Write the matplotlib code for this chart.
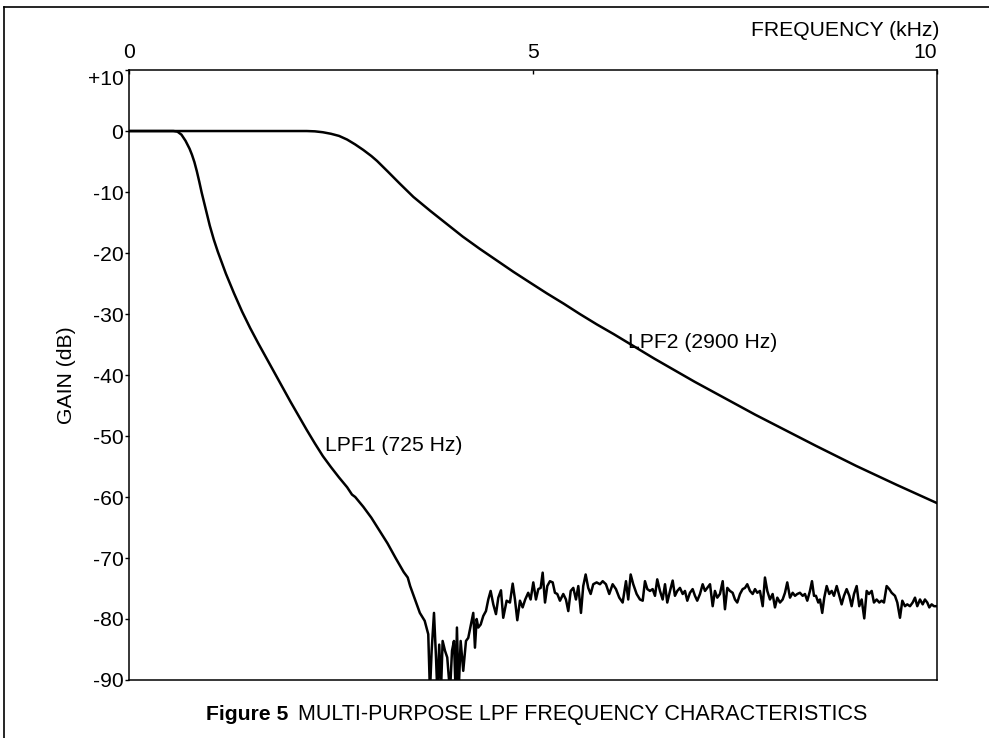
import matplotlib.pyplot as plt
from matplotlib.lines import Line2D

plt.rcParams['font.family'] = ['Liberation Sans', 'DejaVu Sans']

# LPF2 (2900 Hz) - smooth roll-off, frequency in kHz, gain in dB
lpf2_freq = [0.0, 1.0, 2.0, 2.2, 2.3, 2.4, 2.5, 2.6, 2.7, 2.8, 2.9, 3.0, 3.07,
             3.2, 3.35, 3.52, 3.73, 3.93, 4.13, 4.34, 4.55, 4.76, 4.97, 5.17,
             5.38, 5.58, 5.79, 6.0, 6.25, 6.5, 6.75, 7.0, 7.25, 7.5, 7.75,
             8.0, 8.5, 9.0, 9.5, 10.0]
lpf2_gain = [0.0, 0.0, 0.0, 0.0, -0.05, -0.2, -0.45, -0.8, -1.4, -2.2, -3.1,
             -4.1, -4.9, -6.6, -8.6, -10.8, -13.1, -15.2, -17.3, -19.3, -21.2,
             -23.1, -24.9, -26.6, -28.3, -30.0, -31.7, -33.3, -35.3, -37.3,
             -39.2, -41.1, -42.9, -44.7, -46.5, -48.2, -51.6, -54.9, -58.0,
             -61.0]

# LPF1 (725 Hz) - smooth part of the roll-off
lpf1_freq = [0.0, 0.3, 0.55, 0.60, 0.65, 0.70, 0.75, 0.78, 0.81, 0.84, 0.87,
             0.90, 0.95, 1.0, 1.05, 1.1, 1.2, 1.3, 1.4, 1.5, 1.6, 1.7, 1.8,
             1.9, 2.0, 2.1, 2.2, 2.3, 2.4, 2.5, 2.6, 2.7, 2.76, 2.8, 2.9, 3.0,
             3.1, 3.2, 3.3, 3.4, 3.45, 3.48, 3.54, 3.60, 3.66]
lpf1_gain = [0.0, 0.0, 0.0, -0.1, -0.6, -1.6, -2.9, -3.9, -5.1, -6.6, -8.3,
             -10.1, -12.8, -15.5, -17.8, -19.8, -23.4, -26.6, -29.6, -32.3,
             -34.8, -37.2, -39.6, -42.0, -44.4, -46.7, -49.0, -51.2, -53.3,
             -55.1, -56.8, -58.4, -59.6, -60.0, -61.6, -63.4, -65.5, -67.6,
             -70.0, -72.3, -73.2, -74.6, -76.8, -79.0, -80.3]

# LPF1 stop band - measured noise floor
noise_freq = [3.704, 3.725, 3.746, 3.775, 3.800, 3.816, 3.840, 3.861, 3.882,
              3.911, 3.939, 3.973, 3.998, 4.022, 4.043, 4.059, 4.080, 4.105,
              4.137, 4.171, 4.199, 4.233, 4.261, 4.282, 4.303, 4.323, 4.353,
              4.385, 4.418, 4.447, 4.476, 4.509, 4.542, 4.571, 4.604, 4.632,
              4.674, 4.715, 4.749, 4.777, 4.806, 4.839, 4.872, 4.904, 4.941,
              4.971, 5.004, 5.037, 5.066, 5.095, 5.120, 5.149, 5.177, 5.210,
              5.244, 5.272, 5.301, 5.334, 5.375, 5.408, 5.437, 5.467, 5.499,
              5.532, 5.561, 5.594, 5.622, 5.652, 5.684, 5.714, 5.746, 5.788,
              5.829, 5.863, 5.903, 5.944, 5.986, 6.027, 6.068, 6.110, 6.151,
              6.179, 6.209, 6.241, 6.283, 6.324, 6.358, 6.386, 6.415, 6.448,
              6.481, 6.510, 6.538, 6.572, 6.605, 6.634, 6.662, 6.696, 6.729,
              6.757, 6.786, 6.819, 6.853, 6.881, 6.910, 6.943, 6.976, 7.005,
              7.033, 7.067, 7.100, 7.129, 7.157, 7.191, 7.224, 7.252, 7.281,
              7.314, 7.348, 7.376, 7.405, 7.438, 7.471, 7.500, 7.528, 7.562,
              7.595, 7.624, 7.652, 7.686, 7.719, 7.748, 7.776, 7.809, 7.843,
              7.871, 7.900, 7.933, 7.966, 7.995, 8.024, 8.057, 8.090, 8.119,
              8.147, 8.181, 8.214, 8.243, 8.271, 8.304, 8.338, 8.366, 8.395,
              8.428, 8.453, 8.478, 8.502, 8.531, 8.552, 8.580, 8.605, 8.635,
              8.667, 8.697, 8.725, 8.759, 8.791, 8.820, 8.849, 8.882, 8.915,
              8.944, 8.973, 9.006, 9.038, 9.068, 9.100, 9.130, 9.158, 9.192,
              9.220, 9.253, 9.286, 9.315, 9.344, 9.377, 9.410, 9.439, 9.480,
              9.509, 9.542, 9.571, 9.604, 9.632, 9.666, 9.699, 9.728, 9.756,
              9.790, 9.823, 9.851, 9.880, 9.905, 9.934, 9.963, 9.996]
noise_gain = [-82.5, -92.0, -85.2, -79.0, -86.3, -92.0, -84.2, -92.0, -83.6,
              -85.2, -86.3, -92.0, -85.2, -83.6, -92.0, -81.4, -92.0, -83.6,
              -88.5, -83.6, -83.1, -80.9, -79.0, -84.7, -80.0, -81.4, -80.9,
              -79.5, -78.7, -76.8, -75.4, -77.6, -79.2, -76.5, -75.3, -79.8,
              -77.0, -77.3, -74.2, -76.8, -80.2, -77.0, -78.1, -76.8, -75.7,
              -76.8, -74.0, -76.8, -75.1, -74.9, -72.4, -77.3, -74.6, -73.8,
              -74.0, -75.7, -75.9, -77.0, -75.9, -76.8, -78.7, -75.4, -74.9,
              -76.8, -74.6, -79.0, -74.6, -72.7, -74.9, -75.9, -74.3, -74.0,
              -74.3, -73.8, -74.3, -75.9, -74.3, -75.1, -76.5, -77.3, -73.8,
              -76.8, -72.7, -74.3, -75.9, -76.8, -77.0, -73.8, -75.1, -75.4,
              -75.1, -76.2, -73.5, -75.4, -76.8, -74.3, -77.3, -75.4, -73.7,
              -76.2, -75.4, -74.9, -75.9, -75.4, -77.0, -75.7, -75.1, -76.2,
              -77.0, -75.9, -74.3, -75.4, -74.9, -74.3, -77.9, -75.4, -76.5,
              -75.9, -73.8, -78.4, -74.9, -75.4, -75.7, -76.8, -77.3, -75.9,
              -75.1, -74.9, -74.3, -75.4, -75.9, -75.1, -75.7, -75.4, -77.9,
              -73.2, -75.4, -76.8, -75.9, -78.1, -76.5, -77.3, -76.8, -75.7,
              -74.0, -76.5, -75.7, -76.2, -75.9, -75.7, -76.2, -75.9, -77.0,
              -75.4, -73.8, -76.2, -76.2, -77.3, -76.8, -79.0, -76.5, -74.6,
              -75.9, -75.4, -76.2, -74.6, -76.2, -77.6, -76.2, -75.1, -76.2,
              -77.9, -75.9, -74.6, -77.9, -76.8, -79.9, -75.4, -75.9, -75.4,
              -77.3, -76.8, -77.3, -77.0, -77.3, -74.6, -75.1, -75.7, -76.2,
              -77.3, -79.8, -77.0, -77.9, -77.6, -77.9, -77.3, -76.5, -77.9,
              -76.8, -77.6, -76.8, -77.3, -78.1, -77.6, -77.9, -77.9]

x_ticks = [0, 5, 10]
y_ticks = [10, 0, -10, -20, -30, -40, -50, -60, -70, -80, -90]
y_tick_labels = ['+10', '0', '-10', '-20', '-30', '-40', '-50', '-60',
                 '-70', '-80', '-90']

fs = 15.2
fig = plt.figure(figsize=(9.89, 7.38), dpi=100)
ax = fig.add_axes([0.1304, 0.0786, 0.8170, 0.8265])

ax.plot(lpf2_freq, lpf2_gain, color='black', lw=1.8, solid_joinstyle='round')
ax.plot(lpf1_freq + noise_freq, lpf1_gain + noise_gain, color='black', lw=1.8,
        solid_joinstyle='round')

ax.set_xlim(0, 10)
ax.set_ylim(-90, 10)

ax.xaxis.tick_top()
ax.set_xticks(x_ticks)
ax.set_xticklabels([str(t) for t in x_ticks], fontsize=fs)
ax.xaxis.get_ticklabels()[-1].set_ha('right')
ax.tick_params(axis='x', direction='in', length=3, width=1, pad=6)

ax.set_yticks(y_ticks)
ax.set_yticklabels(y_tick_labels, fontsize=fs)
ax.yaxis.get_ticklabels()[0].set_va('top')
ax.tick_params(axis='y', direction='out', length=3, width=1, pad=1)

for sp in ax.spines.values():
    sp.set_linewidth(1.1)

ax.set_ylabel('GAIN (dB)', fontsize=fs, labelpad=8)
ax.text(1.003, 1.05, 'FREQUENCY (kHz)', transform=ax.transAxes, fontsize=fs,
        ha='right', va='bottom')

ax.text(2.43, -51.5, 'LPF1 (725 Hz)', fontsize=fs, ha='left', va='center')
ax.text(6.17, -34.6, 'LPF2 (2900 Hz)', fontsize=fs, ha='left', va='center')

# caption: bold figure number followed by regular title, same baseline
cap_y = 1 - 720 / 738
t1 = fig.text(206 / 989, cap_y, 'Figure 5', fontsize=fs, weight='bold',
              ha='left', va='baseline')
fig.canvas.draw()
bb = t1.get_window_extent(fig.canvas.get_renderer())
fig.text((bb.x1 + 10) / fig.bbox.width, cap_y,
         'MULTI-PURPOSE LPF FREQUENCY CHARACTERISTICS', fontsize=fs + 0.3,
         ha='left', va='baseline')

# page frame (top and left edges)
fig.add_artist(Line2D([4 / 989, 1], [1 - 7 / 738, 1 - 7 / 738],
                      transform=fig.transFigure, color='black', lw=1.2))
fig.add_artist(Line2D([4 / 989, 4 / 989], [0, 1 - 7 / 738],
                      transform=fig.transFigure, color='black', lw=1.2))

fig.savefig('out.png', dpi=100)
